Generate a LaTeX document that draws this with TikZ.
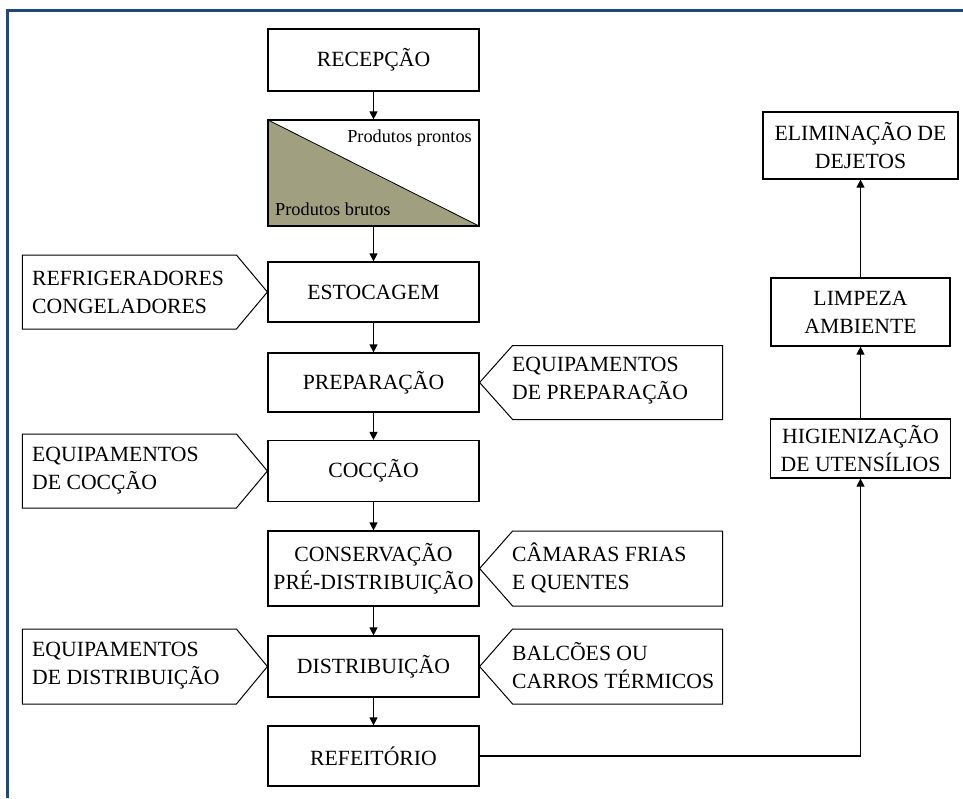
\documentclass[tikz,border=0pt]{standalone}
\usepackage{fontspec}
\setmainfont{Liberation Serif}
\usetikzlibrary{arrows.meta}
\definecolor{framebl}{RGB}{31,73,125}
\definecolor{olivefill}{RGB}{160,160,128}
\begin{document}
\begin{tikzpicture}[x=1pt,y=-1pt,
  font=\fontsize{21.7}{28}\selectfont,
  stage/.style={draw, line width=1.2pt, inner sep=0pt, align=center, minimum width=211pt},
  sidebox/.style={draw, line width=1.2pt, inner sep=0pt, align=center},
  callout/.style={draw, line width=1pt, line join=miter},
  calltext/.style={inner sep=0pt, align=left, anchor=west},
  flow/.style={line width=1.2pt, -{Triangle[length=8pt,width=8pt]}},
  prodlabel/.style={font=\fontsize{18.3}{22}\selectfont, inner sep=0pt}
]
\useasboundingbox (0,0) rectangle (963,798);

% outer frame (left and top edges)
\draw[framebl, line width=3pt] (7.5,798) -- (7.5,10.5) -- (963,10.5);

% main flow
\node[stage, minimum height=62pt] (rec) at (373.5,60) {RECEPÇÃO};
\node[stage, minimum height=106pt,
  path picture={
    \fill[olivefill] (path picture bounding box.north west)
      -- (path picture bounding box.south east)
      -- (path picture bounding box.south west) -- cycle;
    \draw[line width=0.8pt] (path picture bounding box.north west)
      -- (path picture bounding box.south east);
  }] (prod) at (373.5,173) {};
\node[prodlabel, anchor=base east] (prontos) at (472,142) {Produtos prontos};
\node[prodlabel, anchor=base west] (brutos) at (275,215) {Produtos brutos};
\node[stage, minimum height=60pt] (esto) at (373.5,292) {ESTOCAGEM};
\node[stage, minimum height=59pt] (prep) at (373.5,382.5) {PREPARAÇÃO};
\node[stage, minimum height=61pt] (cocc) at (373.5,471) {COCÇÃO};
\node[stage, minimum height=75pt] (cons) at (373.5,568.5) {CONSERVAÇÃO\\PRÉ-DISTRIBUIÇÃO};
\node[stage, minimum height=61pt] (dist) at (373.5,666.5) {DISTRIBUIÇÃO};
\node[stage, minimum height=60pt] (refe) at (373.5,756) {REFEITÓRIO};

\draw[flow] (rec) -- (prod);
\draw[flow] (prod) -- (esto);
\draw[flow] (esto) -- (prep);
\draw[flow] (prep) -- (cocc);
\draw[flow] (cocc) -- (cons);
\draw[flow] (cons) -- (dist);
\draw[flow] (dist) -- (refe);

% cleaning branch
\node[sidebox, minimum width=180pt, minimum height=59pt] (higi) at (860.5,448.5) {HIGIENIZAÇÃO\\DE UTENSÍLIOS};
\node[sidebox, minimum width=179pt, minimum height=68pt] (limp) at (860.5,312) {LIMPEZA\\AMBIENTE};
\node[sidebox, minimum width=195pt, minimum height=67pt] (elim) at (860.5,145.5) {ELIMINAÇÃO DE\\DEJETOS};

\draw[flow] (refe.east) -| (higi.south);
\draw[flow] (higi) -- (limp);
\draw[flow] (limp) -- (elim);

% equipment callouts, left side
\draw[callout] (esto.west) -- ++(-31,-37) -- ++(-214,0) -- ++(0,74) -- ++(214,0) -- cycle;
\node[calltext] (refrig) at (32,292) {REFRIGERADORES\\CONGELADORES};
\draw[callout] (cocc.west) -- ++(-31,-37) -- ++(-214,0) -- ++(0,74) -- ++(214,0) -- cycle;
\node[calltext] (eqcocc) at (32,471) {EQUIPAMENTOS\\DE COCÇÃO};
\draw[callout] (dist.west) -- ++(-31,-37.5) -- ++(-214,0) -- ++(0,75) -- ++(214,0) -- cycle;
\node[calltext] (eqdist) at (32,666) {EQUIPAMENTOS\\DE DISTRIBUIÇÃO};

% equipment callouts, right side
\draw[callout] (prep.east) -- ++(33,-37) -- ++(210,0) -- ++(0,74) -- ++(-210,0) -- cycle;
\node[calltext] (eqprep) at (512,381) {EQUIPAMENTOS\\DE PREPARAÇÃO};
\draw[callout] (cons.east) -- ++(33,-37.5) -- ++(210,0) -- ++(0,75) -- ++(-210,0) -- cycle;
\node[calltext] (camaras) at (512,568) {CÂMARAS FRIAS\\E QUENTES};
\draw[callout] (dist.east) -- ++(33,-37.5) -- ++(210,0) -- ++(0,75) -- ++(-210,0) -- cycle;
\node[calltext] (balcoes) at (512,666) {BALCÕES OU\\CARROS TÉRMICOS};
\end{tikzpicture}
\end{document}
